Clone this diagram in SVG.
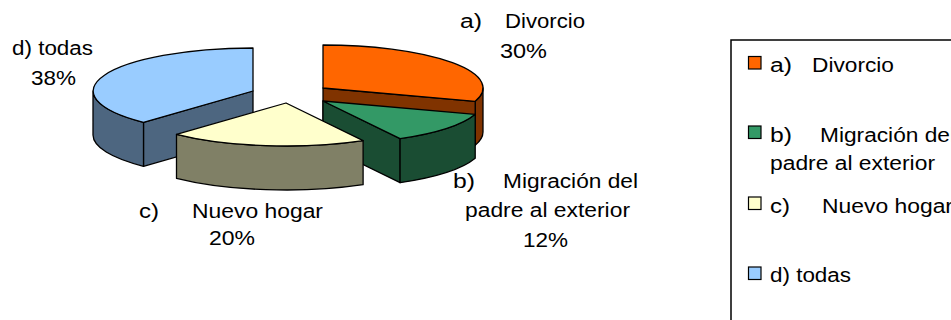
<svg xmlns="http://www.w3.org/2000/svg" width="951" height="320" viewBox="0 0 951 320">
<style>
.s{stroke:#000;stroke-width:1.3;stroke-linejoin:round}
.t{font-family:"Liberation Sans",Arial,sans-serif;font-size:20px;fill:#000}
.sw{stroke:#000;stroke-width:1.2}
</style>
<rect x="0" y="0" width="951" height="320" fill="#fff"/>
<g id="slice-d">
<path class="s" fill="#4D6680" d="M253,91 L143.5,122.3 L143.5,166.3 L253,135 Z"/>
<path class="s" fill="#4D6680" d="M143.5,122.3 A160,43 0 0 1 93,91 L93,135 A160,43 0 0 0 143.5,166.3 Z"/>
<path class="s" fill="#99CCFF" d="M253,91 L143.5,122.3 A160,43 0 0 1 253,48 Z"/>
</g>
<g id="slice-a">
<path class="s" fill="#803300" d="M483,88 A160,43 0 0 1 475.2,101.3 L475.2,145.3 A160,43 0 0 0 483,132 Z"/>
<path class="s" fill="#803300" d="M323,88 L475.2,101.3 L475.2,145.3 L323,132 Z"/>
<path class="s" fill="#FF6600" d="M323,88 L323,45 A160,43 0 0 1 475.2,101.3 Z"/>
</g>
<g id="slice-b">
<path class="s" fill="#1A4D33" d="M323,101 L400.1,138.7 L400.1,182.7 L323,145 Z"/>
<path class="s" fill="#1A4D33" d="M475.2,114.3 A160,43 0 0 1 400.1,138.7 L400.1,182.7 A160,43 0 0 0 475.2,158.3 Z"/>
<path class="s" fill="#339966" d="M323,101 L475.2,114.3 A160,43 0 0 1 400.1,138.7 Z"/>
</g>
<g id="slice-c">
<path class="s" fill="#808066" d="M363.1,140.7 A160,43 0 0 1 176.5,134.3 L176.5,178.3 A160,43 0 0 0 363.1,184.7 Z"/>
<path class="s" fill="#FFFFCC" d="M286,103 L363.1,140.7 A160,43 0 0 1 176.5,134.3 Z"/>
</g>
<g id="labels">
<text class="t" x="12" y="55" textLength="81" lengthAdjust="spacingAndGlyphs">d) todas</text>
<text class="t" x="31" y="85" textLength="45" lengthAdjust="spacingAndGlyphs">38%</text>
<text class="t" x="460" y="28" textLength="22" lengthAdjust="spacingAndGlyphs">a)</text>
<text class="t" x="505" y="28" textLength="80" lengthAdjust="spacingAndGlyphs">Divorcio</text>
<text class="t" x="500" y="58" textLength="47" lengthAdjust="spacingAndGlyphs">30%</text>
<text class="t" x="453" y="188" textLength="22" lengthAdjust="spacingAndGlyphs">b)</text>
<text class="t" x="503" y="188" textLength="135" lengthAdjust="spacingAndGlyphs">Migración del</text>
<text class="t" x="465" y="217" textLength="165" lengthAdjust="spacingAndGlyphs">padre al exterior</text>
<text class="t" x="523" y="247" textLength="45" lengthAdjust="spacingAndGlyphs">12%</text>
<text class="t" x="139" y="218" textLength="20" lengthAdjust="spacingAndGlyphs">c)</text>
<text class="t" x="192" y="218" textLength="131" lengthAdjust="spacingAndGlyphs">Nuevo hogar</text>
<text class="t" x="209" y="245" textLength="46" lengthAdjust="spacingAndGlyphs">20%</text>
</g>
<g id="legend">
<rect x="731" y="40" width="240" height="300" fill="none" stroke="#000" stroke-width="1.5"/>
<rect class="sw" x="748.5" y="56.5" width="12.5" height="12.5" fill="#FF6600"/>
<text class="t" x="770" y="72" textLength="22" lengthAdjust="spacingAndGlyphs">a)</text>
<text class="t" x="812" y="72" textLength="82" lengthAdjust="spacingAndGlyphs">Divorcio</text>
<rect class="sw" x="748.5" y="126" width="12.5" height="12.5" fill="#339966"/>
<text class="t" x="770" y="142" textLength="22" lengthAdjust="spacingAndGlyphs">b)</text>
<text class="t" x="820" y="142" textLength="135" lengthAdjust="spacingAndGlyphs">Migración del</text>
<text class="t" x="770" y="170" textLength="165" lengthAdjust="spacingAndGlyphs">padre al exterior</text>
<rect class="sw" x="748.5" y="197" width="12.5" height="12.5" fill="#FFFFCC"/>
<text class="t" x="770" y="213" textLength="20" lengthAdjust="spacingAndGlyphs">c)</text>
<text class="t" x="822" y="213" textLength="131" lengthAdjust="spacingAndGlyphs">Nuevo hogar</text>
<rect class="sw" x="748.5" y="267" width="12.5" height="12.5" fill="#99CCFF"/>
<text class="t" x="770" y="282" textLength="81" lengthAdjust="spacingAndGlyphs">d) todas</text>
</g>
</svg>
